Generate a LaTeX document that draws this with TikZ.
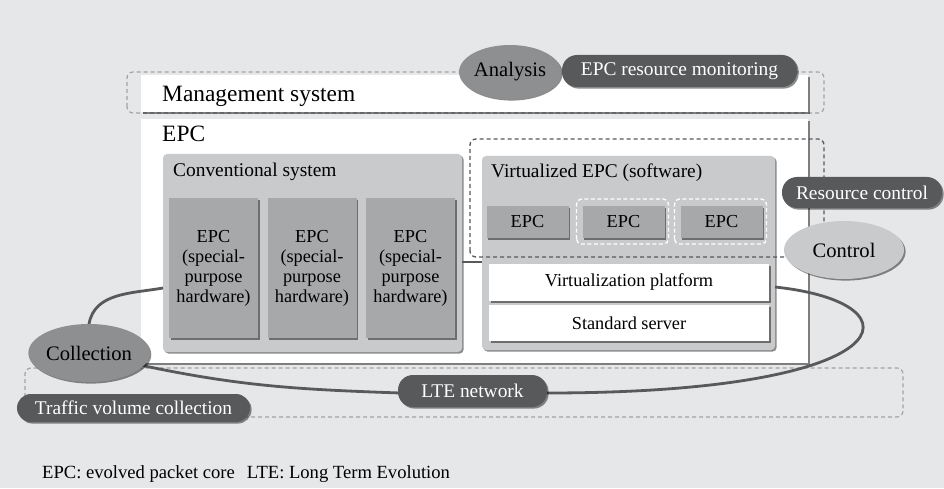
\documentclass[tikz,border=0pt]{standalone}
\usepackage{fontspec}
\setmainfont{Liberation Serif}
\usetikzlibrary{shadows,shapes.geometric}

\definecolor{bggray}{HTML}{E6E7E9}
\definecolor{lightbox}{HTML}{C9CACC}
\definecolor{darkbox}{HTML}{A7A8AA}
\definecolor{midgray}{HTML}{8E8F91}
\definecolor{pillgray}{HTML}{58595B}
\definecolor{dashgray}{HTML}{A2A3A5}

\newcommand{\fbig}{\fontsize{23.4}{26}\selectfont}
\newcommand{\fmid}{\fontsize{19.4}{22}\selectfont}
\newcommand{\fsmall}{\fontsize{18.3}{20}\selectfont}
\newcommand{\fell}{\fontsize{20.6}{23}\selectfont}

\begin{document}
\begin{tikzpicture}[x=1pt,y=1pt,
	shd/.style={drop shadow={shadow xshift=1.6pt,shadow yshift=-1.6pt,fill=black,opacity=0.45}},
	whitebox/.style={fill=white, inner sep=0pt, outer sep=0pt, shd},
	greybox/.style={fill=lightbox, rounded corners=4pt, inner sep=0pt, outer sep=0pt, shd},
	hwbox/.style={fill=darkbox, inner sep=0pt, outer sep=0pt, align=center, font=\fsmall, shd},
	vbox/.style={fill=darkbox, inner sep=0pt, outer sep=0pt, minimum width=82pt, minimum height=32pt, font=\fsmall, shd},
	platbox/.style={fill=white, inner sep=0pt, outer sep=0pt, minimum width=280pt, font=\fsmall, shd},
	pill/.style={fill=pillgray, text=white, rounded corners=15pt, inner sep=0pt, outer sep=0pt, font=\fmid, shd},
	oval/.style={ellipse, fill=midgray, inner sep=0pt, outer sep=0pt, font=\fell, shd},
	zone/.style={draw=dashgray, dash pattern=on 4pt off 3pt, line width=1.2pt, rounded corners=6pt},
	ctrlzone/.style={draw=pillgray, dash pattern=on 4pt off 3pt, line width=1.3pt, rounded corners=6pt},
	vmzone/.style={draw=white, dash pattern=on 4pt off 2.5pt, line width=1.3pt, rounded corners=5pt},
	link/.style={draw=pillgray, line width=2.8pt},
	title/.style={anchor=base west, inner sep=0pt}]

	% background
	\fill[bggray] (0,0) rectangle (944,488);
	\useasboundingbox (0,0) rectangle (944,488);

	% management system
	\draw[zone] (127,375) rectangle (824,416);
	\node[whitebox, minimum width=667pt, minimum height=37pt] (mgmt) at (474.5,394.5) {};
	\node[title, font=\fbig] (mgmtlbl) at (162,386) {Management system};

	% EPC
	\node[whitebox, minimum width=667pt, minimum height=244pt] (epc) at (474.5,247) {};
	\node[title, font=\fbig] (epclbl) at (162,346) {EPC};

	% conventional system
	\node[greybox, minimum width=299pt, minimum height=198pt] (conv) at (312.5,235) {};
	\node[title, font=\fmid] (convlbl) at (173,311) {Conventional system};
	\foreach \i/\x in {1/213.5, 2/312, 3/410.5}
		\node[hwbox, minimum width=89pt, minimum height=140pt] (hw\i) at (\x,220) {EPC\\(special-\\purpose\\hardware)};

	% virtualized EPC
	\node[greybox, minimum width=293pt, minimum height=194pt] (virt) at (628.5,235) {};
	\node[title, font=\fmid] (virtlbl) at (491,310) {Virtualized EPC (software)};
	\foreach \i/\x in {1/527.5, 2/623.5, 3/721.5}
		\node[vbox] (v\i) at (\x,266) {EPC};
	\foreach \i in {2,3}
		\draw[vmzone] ([shift={(-6pt,-6pt)}]v\i.south west) rectangle ([shift={(4pt,7pt)}]v\i.north east);
	\node[platbox, minimum height=37pt] (vplat) at (629,205.5) {Virtualization platform};
	\node[platbox, minimum height=36pt] (sserver) at (629,165) {Standard server};

	% LTE network area
	\draw[zone] (25,71) rectangle (903,120);

	% monitoring / control loop
	\draw[link] (89,164) to[out=80,in=190] ([yshift=-35pt]conv.west);
	\draw[link] ([yshift=-9pt]conv.east) -- ([yshift=-9pt]virt.west);
	\draw[link] ([yshift=-34pt]virt.east) .. controls (925,185) and (905,95) .. (547,95);
	\draw[link] (140,123) to[out=-12,in=178] (400,95);

	% resource control area
	\draw[ctrlzone] (470,231) rectangle (824,349);

	% functions
	\node[oval, minimum width=96pt, minimum height=54pt] (analysis) at (510,416) {Analysis};
	\node[pill, minimum width=235pt, minimum height=32pt] (monitor) at (679.5,417) {EPC resource monitoring};
	\node[pill, minimum width=160pt, minimum height=31pt] (rescontrol) at (862,295.5) {Resource control};
	\node[oval, fill=lightbox, minimum width=120pt, minimum height=58pt] (control) at (844,238) {Control};
	\node[oval, minimum width=114pt, minimum height=58pt] (collection) at (89,135) {Collection};
	\node[pill, rounded corners=14pt, minimum width=233pt, minimum height=28pt] (traffic) at (133.5,80) {Traffic volume collection};
	\node[pill, minimum width=149pt, minimum height=32pt] (lte) at (472.5,97) {LTE network};

	% note
	\node[title, font=\fontsize{18.6}{20}\selectfont] (note) at (42,10) {EPC: evolved packet core\hspace{12pt}LTE: Long Term Evolution};

\end{tikzpicture}
\end{document}
